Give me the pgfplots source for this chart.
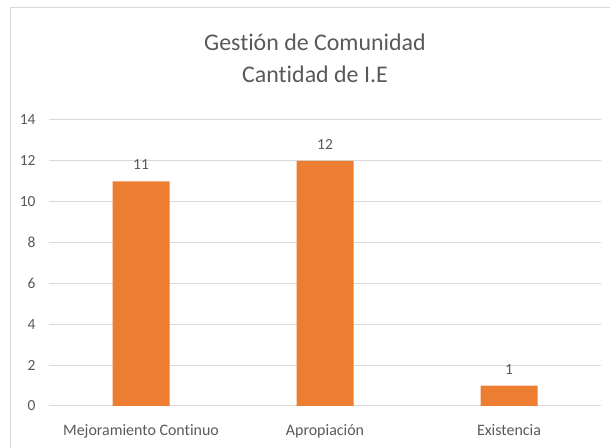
\documentclass[border=0pt]{standalone}
\usepackage{pgfplots}
\pgfplotsset{compat=1.18}
\usepackage{fontspec}
\setmainfont[Ligatures=NoCommon]{Carlito}
\definecolor{barc}{HTML}{ED7D31}
\definecolor{txt}{HTML}{595959}
\definecolor{gridc}{HTML}{D9D9D9}
\begin{document}
\begin{tikzpicture}
\path[use as bounding box] (0,0) rectangle (610bp,448bp);
\draw[gridc, line width=1bp] (10bp,-20bp) -- (10bp,440bp) -- (640bp,440bp);
\node[txt, font=\fontsize{24}{32}\selectfont, align=center] at (315bp,390bp) {Gestión de Comunidad\\Cantidad de I.E};
\begin{axis}[
  at={(49bp,42bp)}, anchor=south west,
  width=552bp, height=286bp, scale only axis,
  xmin=-0.5, xmax=2.5, ymin=0, ymax=14,
  ytick={0,2,...,14},
  xtick={0,1,2},
  xticklabels={Mejoramiento Continuo, Apropiación, Existencia},
  axis line style={draw=none},
  major tick length=0pt,
  ymajorgrids, grid style={gridc, line width=1bp},
  tick label style={txt, font=\fontsize{15.5}{18}\selectfont},
  /pgf/number format/assume math mode=true,
  xticklabel style={yshift=-15bp, font=\fontsize{16}{18}\selectfont},
  yticklabel style={xshift=-10bp},
  ybar, bar width=57bp,
  nodes near coords,
  every node near coord/.append style={txt, font=\fontsize{15.5}{18}\selectfont, yshift=8bp},
]
\addplot[fill=barc, draw=none] coordinates {(0,11) (1,12) (2,1)};
\end{axis}
\end{tikzpicture}
\end{document}
